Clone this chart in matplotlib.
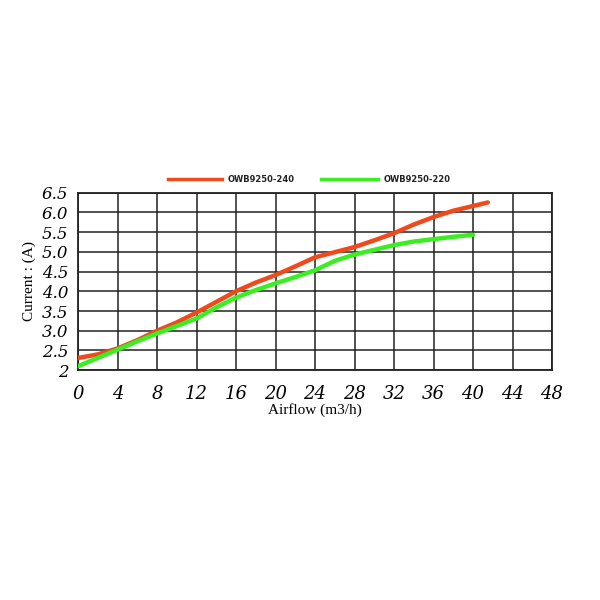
import matplotlib
matplotlib.use('Agg')
import matplotlib.pyplot as plt
from matplotlib.lines import Line2D

# data
airflow_240 = [0, 2, 4, 6, 8, 10, 12, 14, 16, 18, 20, 22, 24, 26, 28, 30, 32, 34, 36, 38, 40, 41.5]
current_240 = [2.31, 2.40, 2.55, 2.76, 3.00, 3.21, 3.46, 3.73, 4.00, 4.22, 4.41, 4.63, 4.86, 4.99,
               5.12, 5.29, 5.47, 5.69, 5.88, 6.04, 6.16, 6.25]
airflow_220 = [0, 2, 4, 6, 8, 10, 12, 14, 16, 18, 20, 22, 24, 26, 28, 30, 32, 34, 36, 38, 40]
current_220 = [2.10, 2.31, 2.52, 2.73, 2.93, 3.12, 3.31, 3.59, 3.84, 4.03, 4.20, 4.36, 4.53, 4.77,
               4.93, 5.05, 5.17, 5.26, 5.32, 5.38, 5.43]

series_names = ['OWB9250-240', 'OWB9250-220']
x_ticks = [0, 4, 8, 12, 16, 20, 24, 28, 32, 36, 40, 44, 48]
y_ticks = [2, 2.5, 3.0, 3.5, 4.0, 4.5, 5.0, 5.5, 6.0, 6.5]
y_labels = ['2', '2.5', '3.0', '3.5', '4.0', '4.5', '5.0', '5.5', '6.0', '6.5']

red = '#f04a1c'
green = '#3aee22'

fig = plt.figure(figsize=(6, 6), dpi=100)
ax = fig.add_axes([0.13, 0.383, 0.79, 0.296])

ax.plot(airflow_240, current_240, color=red, lw=3.2, solid_capstyle='round', zorder=3)
ax.plot(airflow_220, current_220, color=green, lw=3.2, solid_capstyle='round', zorder=3)

ax.set_xlim(0, 48)
ax.set_ylim(2, 6.5)
ax.set_xticks(x_ticks)
ax.set_xticklabels([str(t) for t in x_ticks], fontsize=13, style='italic',
                   family='DejaVu Serif')
ax.set_yticks(y_ticks)
ax.set_yticklabels(y_labels, fontsize=12, style='italic', family='DejaVu Serif')
ax.tick_params(length=0, pad=7)
ax.tick_params(axis='x', pad=11)
ax.grid(True, color='#222222', lw=1.1)
for s in ax.spines.values():
    s.set_color('#222222')
    s.set_linewidth(1.3)

ax.set_xlabel('Airflow (m3/h)', fontsize=11, family='Liberation Serif', labelpad=0)
ax.set_ylabel('Current : (A)', fontsize=11, family='Liberation Serif', labelpad=4)

# legend drawn in figure coords above the grid
leg_y = 1 - 179 / 600
for (x0, x1, xt), color, name in zip([(168, 222, 228), (321, 378, 384)], [red, green], series_names):
    fig.add_artist(Line2D([x0 / 600, x1 / 600], [leg_y, leg_y], color=color, lw=2.5,
                          transform=fig.transFigure))
    fig.text(xt / 600, leg_y, name, fontsize=6, weight='bold', family='DejaVu Sans',
             va='center', ha='left', color='#222222')

plt.savefig('out.png', dpi=100)
